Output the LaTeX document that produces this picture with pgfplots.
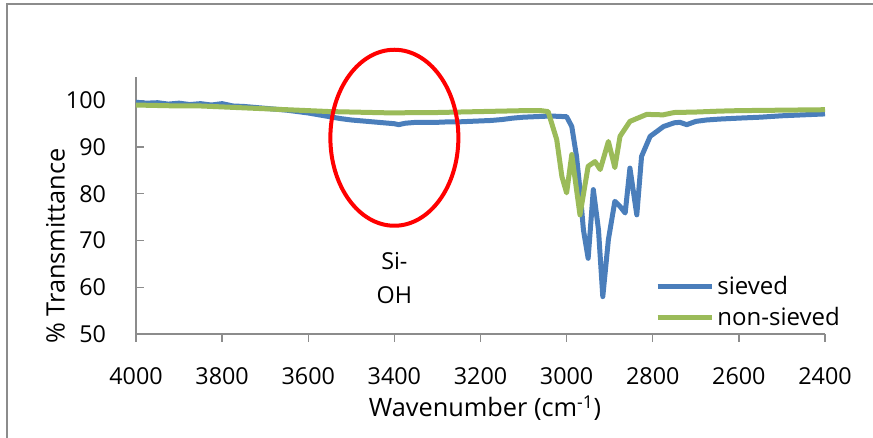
\documentclass[border=0pt]{standalone}
\usepackage{fontspec}
\setmainfont{Open Sans}
\usepackage{pgfplots}
\pgfplotsset{compat=1.18}

\definecolor{sievblue}{HTML}{4A7EBB}
\definecolor{nonsgreen}{HTML}{9BBB59}
\definecolor{axgray}{HTML}{8C8C8C}

\begin{document}
\begin{tikzpicture}
\useasboundingbox (0,0) rectangle (654.75pt,328.5pt);
% outer chart frame (only top and left edges are visible)
\draw[axgray, line width=0.9pt] (5.25pt,0pt) -- (5.25pt,325.5pt) -- (654.75pt,325.5pt);

\begin{axis}[
  at={(102pt,78pt)}, anchor=south west,
  scale only axis, width=516.75pt, height=192.75pt,
  x dir=reverse,
  xmin=2400, xmax=4000, ymin=50, ymax=105,
  xtick={2400,2600,...,4000},
  ytick={50,60,...,100},
  axis x line*=bottom, axis y line*=left,
  axis line style={axgray, line width=1pt, -},
  tick align=inside,
  major tick length=6pt,
  tick style={axgray, line width=1pt},
  x tick style={yshift=-6pt},
  /pgf/number format/set thousands separator={},
  /pgf/number format/assume math mode=true,
  tick label style={font=\fontsize{17.5}{20}\selectfont},
  xticklabel style={yshift=-22pt},
  yticklabel style={xshift=-19pt},
  legend style={at={(rel axis cs:0.753,0.235)}, anchor=north west,
    draw=none, fill=none, font=\fontsize{18}{21}\selectfont,
    row sep=4pt, inner sep=0pt},
  legend cell align=left,
  legend image code/.code={\draw[#1, line width=3.75pt] (0pt,0pt) -- (41pt,0pt);},
  clip=false,
]
\addplot[sievblue, line width=3.75pt, line join=round] coordinates {
(4000,99.6) (3975,99.4) (3950,99.5) (3925,99.2) (3900,99.4) (3875,99.1)
(3850,99.3) (3825,99.0) (3800,99.3) (3775,98.8) (3750,98.7) (3725,98.5)
(3700,98.3) (3675,98.1) (3650,97.9) (3625,97.6) (3600,97.3) (3575,96.9)
(3550,96.5) (3525,96.1) (3500,95.8) (3475,95.6) (3450,95.4) (3425,95.2)
(3400,95.0) (3390,94.8) (3375,95.1) (3350,95.3) (3325,95.3) (3300,95.3)
(3275,95.4) (3250,95.4) (3225,95.5) (3200,95.6) (3175,95.7) (3150,95.9)
(3125,96.2) (3100,96.4) (3075,96.5) (3050,96.6) (3025,96.6) (3000,96.5)
(2988,94.4) (2977,88.0) (2969,80.9) (2961,72.3) (2950,66.2) (2938,80.9)
(2926,72.3) (2916,58.0) (2903,70.2) (2888,78.4) (2876,77.3) (2864,75.9)
(2853,85.5) (2837,75.5) (2826,88.0) (2806,92.3) (2775,94.4) (2750,95.2)
(2737,95.3) (2721,94.8) (2700,95.5) (2675,95.8) (2644,96.0) (2600,96.2)
(2550,96.4) (2500,96.7) (2450,96.9) (2400,97.1)
};
\addlegendentry{sieved}
\addplot[nonsgreen, line width=3.75pt, line join=round] coordinates {
(4000,99.0) (3950,98.9) (3900,98.8) (3850,98.8) (3800,98.6) (3750,98.4)
(3700,98.2) (3650,98.0) (3600,97.8) (3550,97.6) (3500,97.5) (3450,97.4)
(3400,97.3) (3350,97.4) (3300,97.4) (3250,97.5) (3200,97.6) (3150,97.7)
(3100,97.8) (3060,97.8) (3043,97.6) (3023,91.6) (3011,83.7) (3000,80.2)
(2988,88.4) (2969,75.5) (2950,85.9) (2934,86.9) (2922,85.2) (2903,91.2)
(2888,85.6) (2876,92.3) (2853,95.5) (2814,97.0) (2776,96.9) (2750,97.4)
(2700,97.5) (2644,97.7) (2600,97.8) (2500,97.9) (2400,98.0)
};
\addlegendentry{non-sieved}
% annotation
\draw[red, line width=3pt] (axis cs:3400,92) ellipse [x radius=48pt, y radius=66pt];
\node[align=center, font=\fontsize{17.5}{25}\selectfont] at (axis cs:3400,62) {Si-\\OH};
\end{axis}
\node[rotate=90, font=\fontsize{19}{22}\selectfont] at (41.5pt,144pt) {\% Transmittance};
\node[font=\fontsize{19}{22}\selectfont] at (363.75pt,22.5pt) {Wavenumber (cm\textsuperscript{-1})};
\end{tikzpicture}
\end{document}
